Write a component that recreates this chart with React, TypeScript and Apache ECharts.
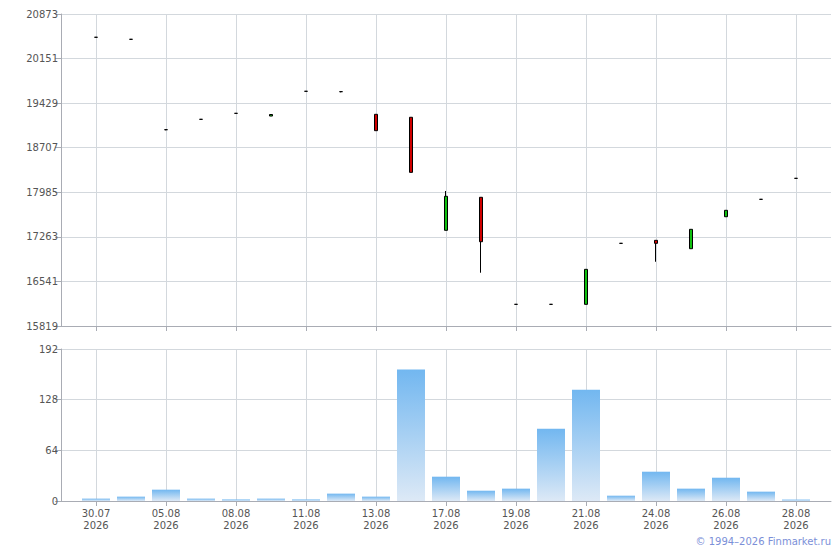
import React, { useEffect, useRef } from 'react';
import * as echarts from 'echarts';

const categories = [
  '', '30.07.2026', '04.08.2026', '05.08.2026', '07.08.2026', '08.08.2026', '10.08.2026',
  '11.08.2026', '12.08.2026', '13.08.2026', '14.08.2026', '17.08.2026', '18.08.2026',
  '19.08.2026', '20.08.2026', '21.08.2026', '23.08.2026', '24.08.2026', '25.08.2026',
  '26.08.2026', '27.08.2026', '28.08.2026', '',
];

const opens = [20496, 20463, 18999, 19167, 19264, 19220, 19621, 19615, 19248, 19200, 17369, 17904, 16170, 16170, 16170, 17158, 17207, 17071, 17589, 17871, 18211];
const closes = [20496, 20463, 18999, 19167, 19264, 19245, 19621, 19615, 18983, 18308, 17920, 17184, 16170, 16170, 16737, 17158, 17158, 17385, 17693, 17871, 18211];
const lows = [20496, 20455, 18990, 19167, 19264, 19220, 19621, 19605, 18983, 18308, 17369, 16682, 16170, 16170, 16170, 17158, 16860, 17071, 17589, 17871, 18211];
const highs = [20496, 20463, 18999, 19167, 19264, 19245, 19621, 19615, 19248, 19200, 18006, 17904, 16170, 16170, 16737, 17158, 17207, 17385, 17693, 17871, 18211];
const volumes = [3, 5.5, 14.3, 3, 2, 3, 2, 9.3, 5.5, 166, 30.7, 13, 15.6, 91.3, 140.6, 6.7, 37, 15.6, 29.4, 11.8, 1.8];

const priceMin = 15819;
const priceMax = 20873;
const priceStep = 722;
const volMax = 192;
const volStep = 64;

const FONT = '"DejaVu Sans", Verdana, sans-serif';
const LABEL = '#555555';
const AXIS = '#a9acb4';
const GRID = '#d3d8dd';

export default function App() {
  const ref = useRef<HTMLDivElement>(null);

  useEffect(() => {
    if (!ref.current) return;
    const chart = echarts.init(ref.current, undefined, { renderer: 'svg' });

    const candleData: any[] = [['-', '-', '-', '-']];
    opens.forEach((o, i) => candleData.push([o, closes[i], lows[i], highs[i]]));
    candleData.push(['-', '-', '-', '-']);
    const volData: any[] = ['-', ...volumes, '-'];

    const oddIdx = (i: number) => i % 2 === 1;

    const xBase = (gridIndex: number, showLabel: boolean) => ({
      type: 'category',
      gridIndex,
      data: categories,
      boundaryGap: false,
      axisLine: { show: true, lineStyle: { color: AXIS, width: 1 } },
      axisTick: { show: true, interval: oddIdx, length: 5, lineStyle: { color: AXIS } },
      axisLabel: {
        show: showLabel,
        interval: oddIdx,
        color: LABEL,
        fontFamily: FONT,
        fontSize: 10,
        lineHeight: 12,
        margin: 6,
        formatter: (v: string) => v.replace(/^(\d\d\.\d\d)\.(\d{4})$/, '$1\n$2'),
      },
      splitLine: { show: true, interval: oddIdx, lineStyle: { color: GRID, width: 1 } },
    });

    const yBase = (gridIndex: number, min: number, max: number, interval: number) => ({
      type: 'value',
      gridIndex,
      min,
      max,
      interval,
      scale: true,
      axisLine: { show: true, lineStyle: { color: AXIS, width: 1 } },
      axisTick: { show: true, length: 6, lineStyle: { color: AXIS } },
      axisLabel: {
        color: LABEL,
        fontFamily: FONT,
        fontSize: 10,
        margin: 3,
        formatter: (v: number) => String(Math.round(v)),
      },
      splitLine: { show: true, lineStyle: { color: GRID, width: 1 } },
    });

    chart.setOption({
      animation: false,
      backgroundColor: '#ffffff',
      grid: [
        { left: 61, top: 14, width: 770, height: 312 },
        { left: 61, top: 349, width: 770, height: 152 },
      ],
      xAxis: [xBase(0, false), xBase(1, true)],
      yAxis: [
        yBase(0, priceMin, priceMax, priceStep),
        yBase(1, 0, volMax, volStep),
      ],
      series: [
        {
          type: 'candlestick',
          xAxisIndex: 0,
          yAxisIndex: 0,
          data: candleData,
          barWidth: 4,
          itemStyle: {
            color: '#10c010',
            color0: '#d00000',
            borderColor: '#000000',
            borderColor0: '#000000',
            borderWidth: 1,
          },
        },
        {
          type: 'bar',
          xAxisIndex: 1,
          yAxisIndex: 1,
          data: volData,
          barWidth: 28,
          itemStyle: {
            color: new echarts.graphic.LinearGradient(0, 0, 0, 1, [
              { offset: 0, color: '#72b7f0' },
              { offset: 1, color: '#dde9f6' },
            ]),
          },
        },
      ],
      graphic: [
        {
          type: 'text',
          right: 9,
          top: 536,
          style: {
            text: '© 1994–2026 Finmarket.ru',
            fill: '#7b8fd8',
            font: `10px ${FONT}`,
          },
        },
      ],
    });

    return () => chart.dispose();
  }, []);

  return (
    <div
      ref={ref}
      style={{ position: 'absolute', left: 0, top: 0, width: 840, height: 550 }}
    />
  );
}
